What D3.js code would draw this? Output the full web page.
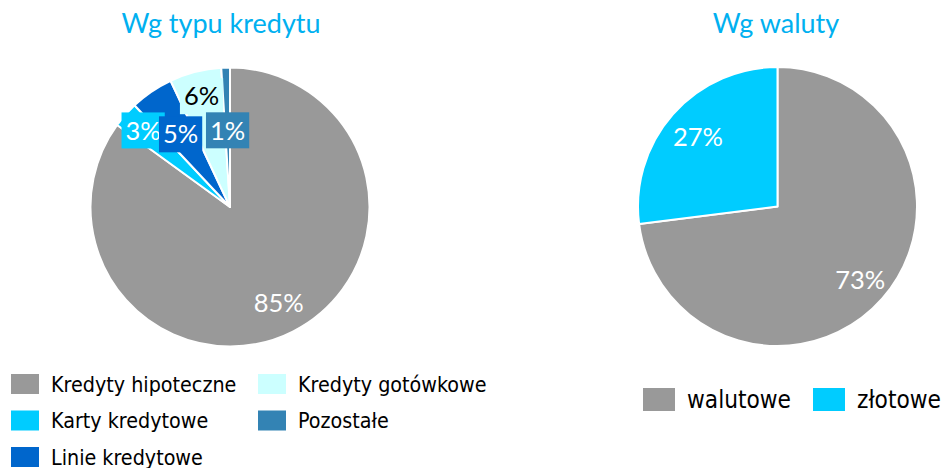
<!DOCTYPE html>
<html>
<head>
<meta charset="utf-8">
<script src="https://cdn.jsdelivr.net/npm/d3@7"></script>
<style>
  html, body { margin: 0; padding: 0; background: #ffffff; }
  svg { display: block; }
</style>
</head>
<body>
<svg id="chart" width="944" height="468"></svg>
<script>
// Loan structure by type
const typeCategories = ["Kredyty hipoteczne", "Karty kredytowe", "Linie kredytowe", "Kredyty gotówkowe", "Pozostałe"];
const typeValues = [85, 3, 5, 6, 1];
const typeColors = ["#999999", "#00ccff", "#0066cc", "#ccffff", "#3383b4"];
const typeLabelColors = ["#ffffff", "#ffffff", "#ffffff", "#000000", "#ffffff"];
const typeLabelBoxed = [false, true, true, true, true];
const typeLabelRadius = [0.77, 0.83, 0.63, 0.82, 0.55];

// Loan structure by currency
const curCategories = ["walutowe", "złotowe"];
const curValues = [73, 27];
const curColors = ["#999999", "#00ccff"];
const curLabelRadius = [0.79, 0.76];

const svg = d3.select("#chart");
const titleColor = "#00b0f0";
const R = 139.5;

function drawPie(cx, cy, titleX, title, cats, values, colors, labelColors, boxed, labelR) {
  const g = svg.append("g").attr("transform", `translate(${cx},${cy})`);
  const pie = d3.pie().sort(null).value(d => d.value);
  const arcs = pie(cats.map((c, i) => ({ name: c, value: values[i], i })));
  const arc = d3.arc().innerRadius(0).outerRadius(R);

  g.selectAll("path.slice").data(arcs).join("path")
    .attr("class", "slice")
    .attr("d", arc)
    .attr("fill", d => colors[d.data.i])
    .attr("stroke", "#ffffff")
    .attr("stroke-width", 2)
    .attr("stroke-linejoin", "round");

  const labels = g.selectAll("g.lbl").data(arcs).join("g")
    .attr("class", "lbl")
    .attr("transform", d => {
      const k = labelR[d.data.i];
      const c = d3.arc().innerRadius(R * k).outerRadius(R * k).centroid(d);
      return `translate(${c[0]},${c[1]})`;
    });

  labels.each(function(d) {
    const sel = d3.select(this);
    const t = sel.append("text")
      .attr("text-anchor", "middle")
      .attr("dy", "0.36em")
      .attr("font-family", "Lato, 'Open Sans', sans-serif")
      .attr("font-size", 25.5)
      .attr("fill", labelColors[d.data.i])
      .text(d3.format(".0f")(d.data.value) + "%");
    if (boxed[d.data.i]) {
      const bb = t.node().getBBox();
      sel.insert("rect", "text")
        .attr("x", bb.x - 4)
        .attr("y", -18)
        .attr("width", bb.width + 8)
        .attr("height", 36)
        .attr("fill", colors[d.data.i]);
    }
  });

  svg.append("text")
    .attr("x", titleX)
    .attr("y", 33)
    .attr("text-anchor", "middle")
    .attr("font-family", "Lato, sans-serif")
    .attr("font-size", 27)
    .attr("fill", titleColor)
    .text(title);
}

drawPie(230, 207, 221, "Wg typu kredytu", typeCategories, typeValues, typeColors,
        typeLabelColors, typeLabelBoxed, typeLabelRadius);
drawPie(777.5, 206.5, 776, "Wg waluty", curCategories, curValues, curColors,
        ["#ffffff", "#ffffff"], [false, false], curLabelRadius);

// Legend for loan type: two columns, filled column by column
const legFont = "'DejaVu Sans Condensed', 'DejaVu Sans', Verdana, sans-serif";
const leg1 = svg.append("g");
const perCol = 3;
leg1.selectAll("g").data(typeCategories).join("g")
  .attr("transform", (d, i) => {
    const col = Math.floor(i / perCol), row = i % perCol;
    return `translate(${11 + col * 247},${374 + row * 36.5})`;
  })
  .each(function(d, i) {
    const s = d3.select(this);
    s.append("rect").attr("width", 28).attr("height", 20).attr("fill", typeColors[i]);
    s.append("text").attr("x", 40).attr("y", 10).attr("dy", "0.36em")
      .attr("font-family", legFont).attr("font-stretch", "condensed")
      .attr("font-size", 21.3).attr("fill", "#000")
      .text(d);
  });

// Legend for currency
const leg2 = svg.append("g");
const leg2X = [643, 813];
leg2.selectAll("g").data(curCategories).join("g")
  .attr("transform", (d, i) => `translate(${leg2X[i]},388)`)
  .each(function(d, i) {
    const s = d3.select(this);
    s.append("rect").attr("width", 32).attr("height", 23).attr("fill", curColors[i]);
    s.append("text").attr("x", 44).attr("y", 11.5).attr("dy", "0.36em")
      .attr("font-family", legFont).attr("font-stretch", "condensed")
      .attr("font-size", 24.2).attr("fill", "#000")
      .text(d);
  });
</script>
</body>
</html>
